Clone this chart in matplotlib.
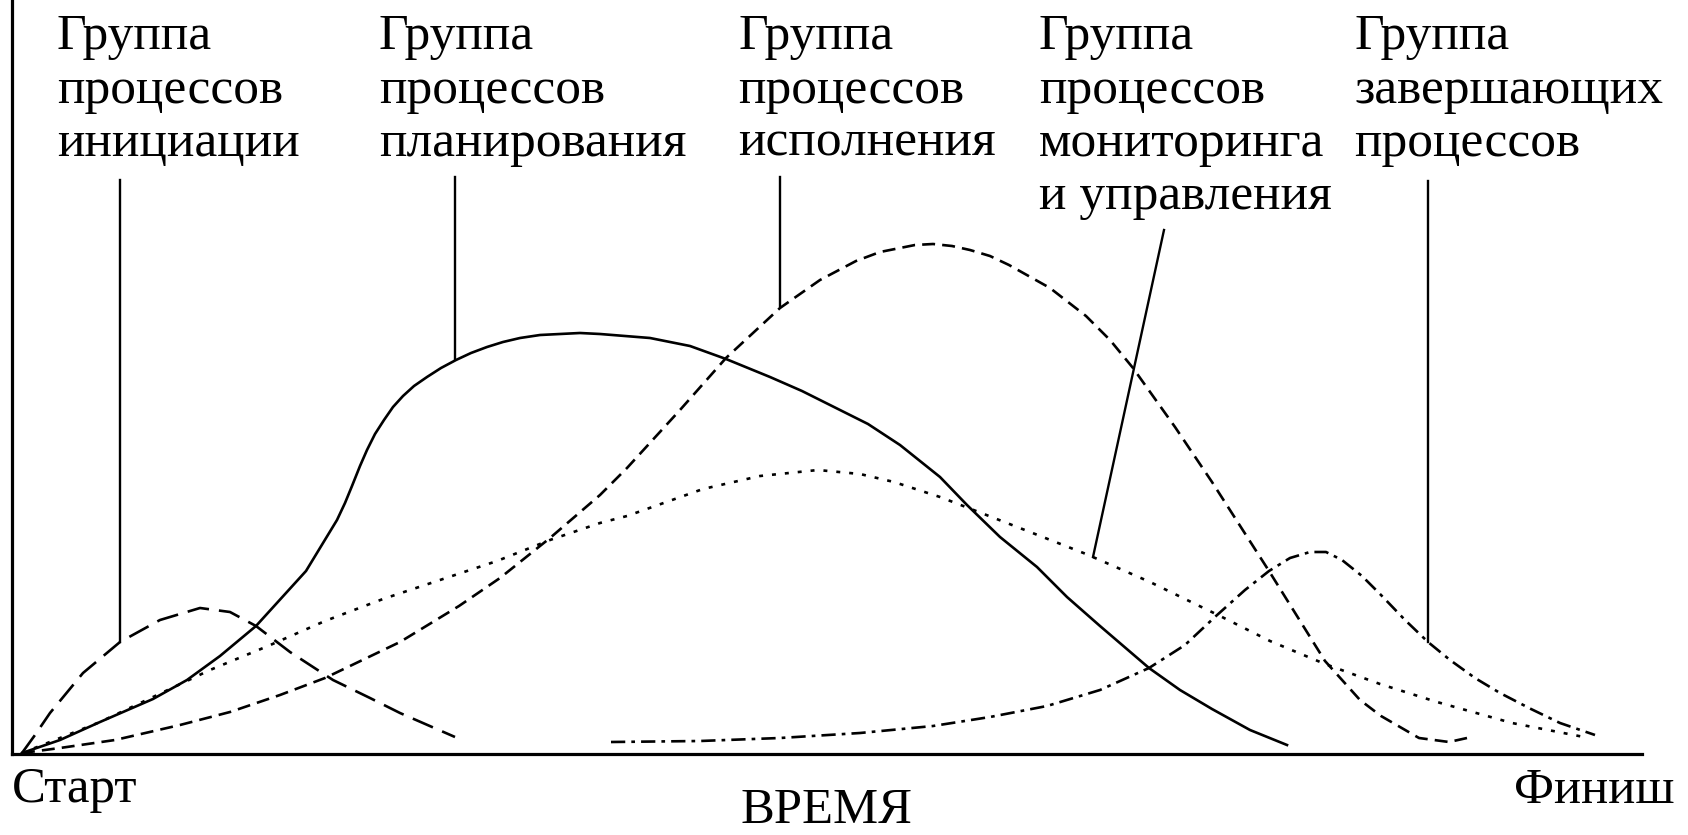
import matplotlib
matplotlib.use('agg')
import matplotlib.pyplot as plt

plt.rcParams['font.family'] = ['Liberation Serif', 'DejaVu Serif']

# time axis runs from "Старт" (0) to "Финиш"; y is level of activity
init_x = [10, 23, 38, 71, 108, 148, 188, 218, 244, 278, 321, 358, 388, 443]
init_y = [1, 19, 41, 81, 112, 134, 146, 142, 128, 102, 74, 56, 41, 17]

plan_x = [10, 48, 88, 141, 175, 208, 244, 294, 325, 333, 340, 348, 355, 363, 372, 381,
          391, 402, 415, 429, 444, 459, 475, 491, 508, 528, 548, 568, 588, 638, 678, 714,
          758, 790, 822, 856, 888, 928, 955, 988, 1025, 1055, 1088, 1137, 1168, 1200, 1238, 1275]
plan_y = [1, 14, 32, 55, 74, 98, 128, 183, 234, 251, 268, 288, 304, 320, 334, 347,
          358, 368, 377, 386, 394, 401, 407, 412, 416, 419, 420, 421, 420, 416, 408, 395,
          377, 363, 347, 330, 309, 277, 249, 217, 187, 157, 128, 86, 64, 45, 24, 9]

exec_x = [10, 48, 103, 168, 218, 268, 313, 388, 447, 488, 538, 588, 615, 668, 714, 768,
          808, 844, 868, 888, 903, 921, 940, 958, 978, 997, 1038, 1074, 1098, 1121, 1163,
          1200, 1257, 1313, 1348, 1369, 1407, 1437, 1455]
exec_y = [1, 6, 14, 29, 42, 59, 76, 112, 148, 176, 216, 259, 286, 344, 396, 446,
          474, 493, 502, 506, 509, 510, 508, 504, 498, 489, 466, 438, 414, 386, 327,
          272, 183, 93, 54, 38, 16, 12, 16]

mon_x = [10, 48, 88, 141, 198, 256, 313, 371, 428, 485, 538, 588, 615, 691, 748, 806,
         848, 882, 928, 959, 1018, 1074, 1138, 1208, 1258, 1313, 1368, 1425, 1500, 1572]
mon_y = [1, 16, 32, 57, 84, 108, 133, 155, 174, 193, 214, 231, 238, 265, 278, 284,
         280, 272, 257, 245, 222, 200, 172, 138, 113, 90, 70, 52, 31, 17]

close_x = [599, 688, 768, 848, 921, 978, 1035, 1088, 1137, 1173, 1204, 1233, 1257, 1278,
           1298, 1314, 1330, 1350, 1369, 1393, 1416, 1438, 1463, 1488, 1519, 1548, 1583]
close_y = [12, 13, 16, 21, 28, 37, 48, 64, 86, 109, 138, 164, 183, 196,
           202, 202, 194, 178, 159, 134, 112, 94, 76, 61, 45, 31, 19]

labels = [
    ['Группа', 'процессов', 'инициации'],
    ['Группа', 'процессов', 'планирования'],
    ['Группа', 'процессов', 'исполнения'],
    ['Группа', 'процессов', 'мониторинга', 'и управления'],
    ['Группа', 'завершающих', 'процессов'],
]
label_x = [45, 367, 726, 1027, 1342]

# leader lines: label end -> curve
lead_top_x = [108, 443, 768, 1152, 1416]
lead_top_y = [574, 577, 577, 524, 573]
lead_bot_x = [108, 443, 768, 1081, 1416]
lead_bot_y = [112, 395, 448, 197, 112]

LW = 1.9
fig = plt.figure(figsize=(16.88, 8.35), dpi=100)
ax = fig.add_axes([12 / 1688, 81 / 835, 1630 / 1688, 754 / 835])
ax.set_xlim(0, 1630)
ax.set_ylim(0, 754)
for s in ['top', 'right']:
    ax.spines[s].set_visible(False)
for s in ['left', 'bottom']:
    ax.spines[s].set_linewidth(2.3)
ax.set_xticks([])
ax.set_yticks([])

ax.plot(init_x, init_y, color='black', lw=LW, ls=(0, (8.3, 3.8)))
ax.plot(plan_x, plan_y, color='black', lw=LW, ls='-')
ax.plot(exec_x, exec_y, color='black', lw=LW, ls=(0, (4.9, 2.7)))
ax.plot(mon_x, mon_y, color='black', lw=LW, ls=(0, (1.5, 3.4)))
ax.plot(close_x, close_y, color='black', lw=LW, ls=(0, (5.4, 2.3, 1.4, 2.3)))

for i in range(len(lead_top_x)):
    ax.plot([lead_top_x[i], lead_bot_x[i]], [lead_top_y[i], lead_bot_y[i]],
            color='black', lw=1.7)

baselines = [705, 651, 598, 545]
for x, lines in zip(label_x, labels):
    for j, line in enumerate(lines):
        ax.text(x, baselines[j], line, fontsize=37, va='baseline', ha='left')

ax.text(0, -48, 'Старт', fontsize=36.5, va='baseline', ha='left', clip_on=False)
ax.text(1662, -49, 'Финиш', fontsize=36.5, va='baseline', ha='right', clip_on=False)
ax.text(814, -69, 'ВРЕМЯ', fontsize=36.5, va='baseline', ha='center', clip_on=False)

fig.savefig('out.png', dpi=100)
